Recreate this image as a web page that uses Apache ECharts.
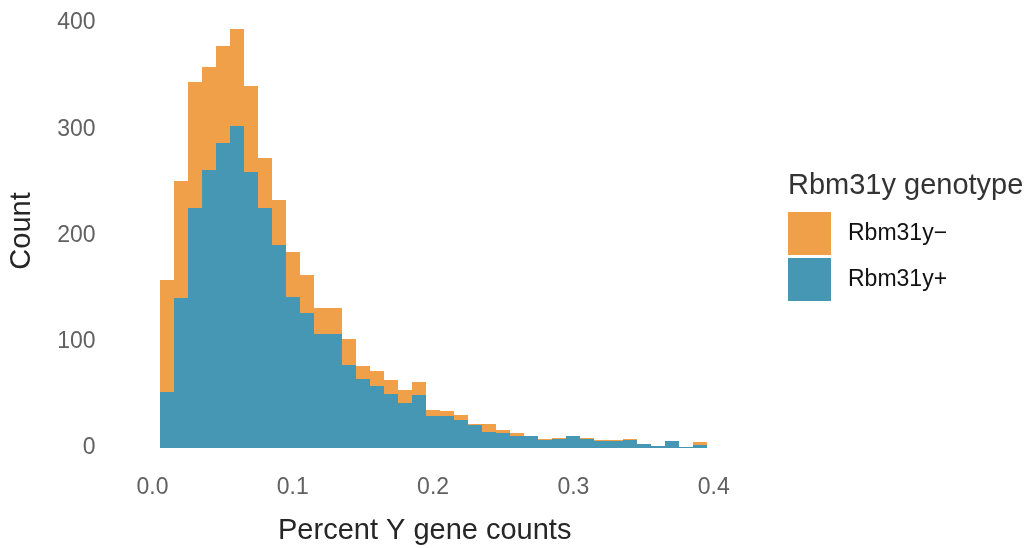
<!DOCTYPE html>
<html>
<head>
<meta charset="utf-8">
<script src="https://cdn.jsdelivr.net/npm/echarts@6/dist/echarts.min.js"></script>
<style>
  html, body { margin: 0; padding: 0; background: #ffffff; }
  #chart { width: 1029px; height: 548px; }
</style>
</head>
<body>
<div id="chart"></div>
<script>
// Histogram of percent Y gene counts, bin width 0.01, stacked by genotype
const binCenters = [0.01, 0.02, 0.03, 0.04, 0.05, 0.06, 0.07, 0.08, 0.09, 0.10,
                    0.11, 0.12, 0.13, 0.14, 0.15, 0.16, 0.17, 0.18, 0.19, 0.20,
                    0.21, 0.22, 0.23, 0.24, 0.25, 0.26, 0.27, 0.28, 0.29, 0.30,
                    0.31, 0.32, 0.33, 0.34, 0.35, 0.36, 0.37, 0.38, 0.39];
const binWidth = 0.01;

// Rbm31y+ counts (bottom layer)
const plusCounts = [53, 141, 226, 262, 287, 303, 260, 226, 191, 142,
                    127, 107, 107, 78, 65, 58, 51, 42, 50, 30,
                    30, 26, 21, 15, 14, 11, 11, 7, 8, 11,
                    8, 6, 6, 7, 4, 2, 6, 1, 3];
// Rbm31y− counts (stacked on top)
const minusCounts = [105, 110, 118, 97, 91, 91, 81, 47, 42, 42,
                     36, 25, 25, 24, 12, 14, 13, 12, 12, 6,
                     5, 5, 1, 7, 3, 3, 0, 1, 1, 0,
                     1, 1, 1, 1, 0, 0, 0, 0, 2];

const xTicks = [0.0, 0.1, 0.2, 0.3, 0.4];
const yTicks = [0, 100, 200, 300, 400];

const seriesNames = ['Rbm31y\u2212', 'Rbm31y+'];
const colors = { minus: '#F1A04A', plus: '#4697B3' };

const FONT = '"Liberation Sans", Arial, Helvetica, sans-serif';

// rows: [left edge, right edge, bottom, top]
const plusRows = binCenters.map((c, i) => [c - binWidth / 2, c + binWidth / 2, 0, plusCounts[i]]);
const minusRows = binCenters.map((c, i) => [c - binWidth / 2, c + binWidth / 2, plusCounts[i], plusCounts[i] + minusCounts[i]]);

// Edges are snapped to whole pixels so neighbouring bins meet without seams
function renderBin(params, api) {
  const p0 = api.coord([api.value(0), api.value(2)]);
  const p1 = api.coord([api.value(1), api.value(3)]);
  const x0 = Math.round(p0[0]);
  const x1 = Math.round(p1[0]);
  const yb = Math.round(p0[1]);
  const yt = Math.round(p1[1]);
  if (yb - yt <= 0) return null;
  return {
    type: 'rect',
    shape: { x: x0, y: yt, width: x1 - x0, height: yb - yt },
    style: { fill: api.visual('color') }
  };
}

const chart = echarts.init(document.getElementById('chart'), null, { renderer: 'canvas' });

chart.setOption({
  animation: false,
  backgroundColor: '#ffffff',
  grid: { left: 152.5, right: 1029 - 713.7, top: 23, bottom: 548 - 447.8, containLabel: false },
  xAxis: {
    type: 'value',
    min: xTicks[0],
    max: xTicks[xTicks.length - 1],
    interval: 0.1,
    axisLine: { show: false },
    axisTick: { show: false },
    splitLine: { show: false },
    axisLabel: {
      margin: 28,
      fontSize: 23,
      fontFamily: FONT,
      color: '#616161',
      formatter: v => v.toFixed(1)
    }
  },
  yAxis: {
    type: 'value',
    min: yTicks[0],
    max: yTicks[yTicks.length - 1],
    interval: 100,
    axisLine: { show: false },
    axisTick: { show: false },
    splitLine: { show: false },
    axisLabel: {
      margin: 57,
      fontSize: 23,
      fontFamily: FONT,
      color: '#616161'
    }
  },
  legend: {
    data: seriesNames,
    orient: 'vertical',
    left: 788,
    top: 212,
    padding: 0,
    itemWidth: 43,
    itemHeight: 43,
    itemGap: 3,
    icon: 'rect',
    selectedMode: false,
    textStyle: {
      fontSize: 23,
      fontFamily: FONT,
      color: '#111111',
      padding: [0, 0, 0, 12]
    }
  },
  graphic: [
    {
      type: 'text',
      left: 278,
      top: 516,
      style: { text: 'Percent Y gene counts', fontSize: 29, fontFamily: FONT, fill: '#262626' }
    },
    {
      type: 'text',
      x: 22,
      y: 231,
      rotation: Math.PI / 2,
      style: { text: 'Count', fontSize: 29, fontFamily: FONT, fill: '#262626', align: 'center', verticalAlign: 'middle' }
    },
    {
      type: 'text',
      left: 788,
      top: 171,
      style: { text: 'Rbm31y genotype', fontSize: 29, fontFamily: FONT, fill: '#333333' }
    }
  ],
  series: [
    {
      name: seriesNames[1],
      type: 'custom',
      renderItem: renderBin,
      itemStyle: { color: colors.plus },
      encode: { x: [0, 1], y: [2, 3] },
      data: plusRows,
      z: 2
    },
    {
      name: seriesNames[0],
      type: 'custom',
      renderItem: renderBin,
      itemStyle: { color: colors.minus },
      encode: { x: [0, 1], y: [2, 3] },
      data: minusRows,
      z: 2
    }
  ]
});
</script>
</body>
</html>
